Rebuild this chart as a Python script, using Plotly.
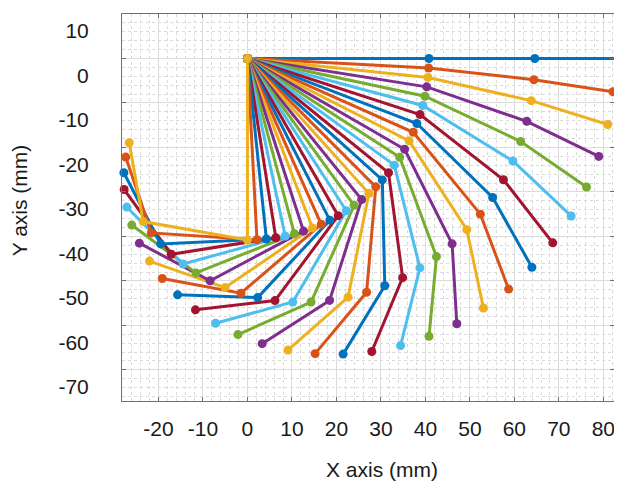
import plotly.graph_objects as go

# Three-link planar arm, 31 configurations
base_x = 0.0
base_y = 0.0

elbow_x = [40.80, 40.74, 40.58, 40.30, 39.91, 39.41, 38.80, 38.09, 37.27, 36.35,
           35.33, 34.22, 33.01, 31.71, 30.32, 28.85, 27.30, 25.68, 23.98, 22.22,
           20.40, 18.52, 16.59, 14.62, 12.61, 10.56, 8.48, 6.38, 4.26, 2.14, 0.00]
elbow_y = [0.00, -2.14, -4.26, -6.38, -8.48, -10.56, -12.61, -14.62, -16.59, -18.52,
           -20.40, -22.22, -23.98, -25.68, -27.30, -28.85, -30.32, -31.71, -33.01, -34.22,
           -35.33, -36.35, -37.27, -38.09, -38.80, -39.41, -39.91, -40.30, -40.58, -40.74, -40.80]

joint_x = [64.60, 64.39, 63.80, 62.80, 61.42, 59.67, 57.55, 55.12, 52.36, 49.31,
           46.01, 42.49, 38.77, 34.89, 30.87, 26.78, 22.62, 18.46, 14.30, 10.20,
           6.19, 2.29, -1.46, -5.03, -8.40, -11.56, -14.47, -17.13, -19.51, -21.61, -23.44]
joint_y = [0.00, -4.77, -9.48, -14.13, -18.66, -23.05, -27.26, -31.25, -35.00, -38.48,
           -41.67, -44.54, -47.07, -49.27, -51.09, -52.56, -53.66, -54.39, -54.75, -54.76,
           -54.42, -53.76, -52.78, -51.51, -49.97, -48.20, -46.20, -44.02, -41.69, -39.22, -36.67]

tip_x = [82.60, 82.18, 80.98, 78.98, 76.22, 72.76, 68.63, 63.94, 58.71, 53.05,
         47.06, 40.82, 34.42, 27.95, 21.51, 15.21, 9.10, 3.31, -2.14, -7.16,
         -11.69, -15.70, -19.15, -22.02, -24.29, -26.00, -27.12, -27.71, -27.78, -27.37, -26.57]
tip_y = [0.00, -7.48, -14.84, -22.02, -28.90, -35.40, -41.44, -46.94, -51.84, -56.09,
         -59.64, -62.46, -64.54, -65.88, -66.46, -66.35, -65.55, -64.11, -62.07, -59.52,
         -56.51, -53.13, -49.45, -45.55, -41.52, -37.45, -33.40, -29.46, -25.70, -22.17, -18.94]

palette = ["#0072BD", "#D95319", "#EDB120", "#7E2F8E", "#77AC30", "#4DBEEE", "#A2142F"]

x_ticks = [-20, -10, 0, 10, 20, 30, 40, 50, 60, 70, 80]
y_ticks = [10, 0, -10, -20, -30, -40, -50, -60, -70]

fig = go.Figure()
for k in range(len(elbow_x)):
    c = palette[k % len(palette)]
    fig.add_trace(go.Scatter(
        x=[base_x, elbow_x[k], joint_x[k], tip_x[k]],
        y=[base_y, elbow_y[k], joint_y[k], tip_y[k]],
        mode="lines+markers",
        line=dict(color=c, width=3),
        marker=dict(color=c, size=9),
        cliponaxis=False,
        showlegend=False,
        hoverinfo="x+y",
    ))

font_family = "Liberation Sans, Arial, sans-serif"
axis_common = dict(
    showline=True, linecolor="#707070", linewidth=1, mirror="ticks",
    ticks="inside", ticklen=4, tickcolor="#707070",
    showgrid=True, gridcolor="#dcdcdc", gridwidth=1,
    minor=dict(dtick=2, showgrid=True, gridcolor="#dadada", griddash="dot", gridwidth=1),
    zeroline=False, automargin=False,
    tickfont=dict(family=font_family, size=21, color="#1a1a1a"),
)

fig.update_xaxes(range=[-28.2, 82.4], tickmode="array", tickvals=x_ticks,
                 ticktext=[str(v) for v in x_ticks], ticklabelstandoff=9, **axis_common)
fig.update_yaxes(range=[-77.0, 10.0], tickmode="array", tickvals=y_ticks,
                 ticktext=[str(v) for v in y_ticks], ticklabelstandoff=28,
                 ticklabelshift=17, **axis_common)

# page body adds an 8px margin, so the figure is sized 8px smaller on each axis
fig.update_layout(
    width=614, height=475,
    margin=dict(l=114, r=8, t=6, b=82),
    paper_bgcolor="white", plot_bgcolor="white",
    font=dict(family=font_family, color="#1a1a1a"),
    annotations=[
        dict(text="X axis (mm)", xref="paper", yref="paper", x=0.528, y=-0.178,
             xanchor="center", yanchor="middle", showarrow=False,
             font=dict(family=font_family, size=21, color="#1a1a1a")),
        dict(text="Y axis (mm)", xref="paper", yref="paper", x=-0.209, y=0.519,
             xanchor="center", yanchor="middle", showarrow=False, textangle=-90,
             font=dict(family=font_family, size=21, color="#1a1a1a")),
    ],
)

fig.write_html("out.html")
